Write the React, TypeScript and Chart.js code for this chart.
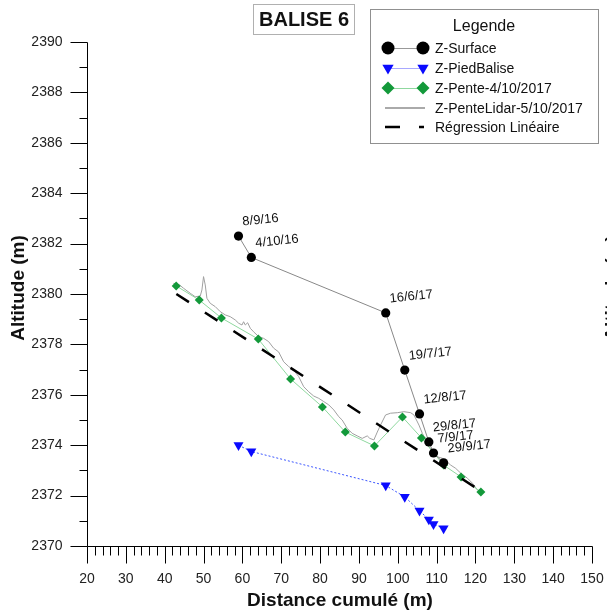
import React, { useEffect, useRef } from "react";
import { Chart, registerables } from "chart.js";

Chart.register(...registerables);

// ---------- DATA ----------
const X_MIN = 20;
const X_MAX = 150;
const Y_MIN = 2370;
const Y_MAX = 2390;
const xTickLabels = [20, 30, 40, 50, 60, 70, 80, 90, 100, 110, 120, 130, 140, 150];
const yTickLabels = [2370, 2372, 2374, 2376, 2378, 2380, 2382, 2384, 2386, 2388, 2390];

const surfaceDates = ["8/9/16", "4/10/16", "16/6/17", "19/7/17", "12/8/17", "29/8/17", "7/9/17", "29/9/17"];
const surfaceX = [59.0, 62.3, 96.9, 101.8, 105.6, 108.0, 109.2, 111.8];
const surfaceY = [2382.3, 2381.45, 2379.25, 2376.98, 2375.24, 2374.13, 2373.69, 2373.3];

const piedX = [59.0, 62.3, 96.9, 101.8, 105.6, 108.0, 109.2, 111.8];
const piedY = [2374.0, 2373.75, 2372.4, 2371.95, 2371.4, 2371.05, 2370.87, 2370.7];

const penteX = [42.96, 48.9, 54.6, 64.1, 72.4, 80.6, 86.5, 94.0, 101.2, 106.1, 111.8, 116.3, 121.4];
const penteY = [2380.32, 2379.76, 2379.05, 2378.21, 2376.63, 2375.52, 2374.52, 2373.97, 2375.12, 2374.29, 2373.21, 2372.74, 2372.14];

const lidarX = [42.26, 43.81, 44.84, 46.57, 47.86, 49.15, 49.58, 50.0, 50.44, 50.87, 51.73, 53.01, 54.3, 55.59, 56.88, 58.17, 59.03, 59.9, 60.31, 60.75, 61.35, 62.04, 62.89, 64.18, 65.47, 66.76, 68.05, 69.34, 70.63, 71.92, 73.21, 74.5, 75.79, 77.08, 78.37, 79.66, 80.95, 82.24, 83.53, 84.82, 85.69, 86.98, 88.27, 89.56, 90.85, 92.14, 92.81, 93.85, 94.72, 95.57, 96.86, 98.15, 99.88, 101.58, 103.31, 104.16, 105.45, 106.33, 107.18, 108.03, 109.32, 110.2, 111.49, 112.6, 113.63, 114.92, 116.21, 117.94, 119.23, 120.52, 121.37];
const lidarY = [2380.42, 2380.36, 2380.23, 2380.03, 2379.89, 2379.92, 2380.16, 2380.69, 2380.36, 2379.83, 2379.63, 2379.5, 2379.3, 2379.17, 2379.1, 2378.97, 2378.84, 2378.77, 2378.9, 2378.77, 2378.86, 2378.64, 2378.5, 2378.31, 2378.24, 2378.11, 2377.85, 2377.7, 2377.31, 2377.12, 2376.98, 2376.72, 2376.32, 2376.12, 2375.95, 2375.86, 2375.73, 2375.6, 2375.4, 2375.13, 2375.0, 2374.67, 2374.47, 2374.37, 2374.27, 2374.37, 2374.27, 2374.21, 2374.52, 2374.8, 2375.2, 2375.27, 2375.29, 2375.33, 2375.29, 2375.2, 2374.8, 2374.47, 2374.21, 2373.94, 2373.68, 2373.54, 2373.48, 2373.35, 2373.21, 2373.08, 2372.89, 2372.69, 2372.49, 2372.22, 2372.09];

const regX = [43.0, 121.5];
const regY = [2380.0, 2372.17];

const legendLabels = ["Z-Surface", "Z-PiedBalise", "Z-Pente-4/10/2017", "Z-PenteLidar-5/10/2017", "Régression Linéaire"];
const chartTitle = "BALISE 6";
const legendTitle = "Legende";
const xTitle = "Distance cumulé (m)";
const yTitle = "Altitude (m)";

// ---------- STYLE ----------
const FONT = "Arial, 'Liberation Sans', sans-serif";
const GREEN = "#13993a";
const BLUE = "#0a0aff";

const pts = (xs: number[], ys: number[]) => xs.map((x, i) => ({ x, y: ys[i] }));

function drawCircle(ctx: CanvasRenderingContext2D, x: number, y: number, r: number) {
  ctx.beginPath();
  ctx.arc(x, y, r, 0, Math.PI * 2);
  ctx.fill();
}
function drawTriDown(ctx: CanvasRenderingContext2D, x: number, y: number, r: number) {
  ctx.beginPath();
  ctx.moveTo(x - r * 0.866, y - r * 0.5);
  ctx.lineTo(x + r * 0.866, y - r * 0.5);
  ctx.lineTo(x, y + r);
  ctx.closePath();
  ctx.fill();
}
function drawDiamond(ctx: CanvasRenderingContext2D, x: number, y: number, r: number) {
  ctx.beginPath();
  ctx.moveTo(x, y - r);
  ctx.lineTo(x + r, y);
  ctx.lineTo(x, y + r);
  ctx.lineTo(x - r, y);
  ctx.closePath();
  ctx.fill();
}

const decorPlugin = {
  id: "decor",
  beforeDatasetsDraw(chart: any) {
    const { ctx } = chart;
    const xs = chart.scales.x;
    const ys = chart.scales.y;
    const ax = Math.round(xs.getPixelForValue(X_MIN)) + 0.5;
    const ab = Math.round(ys.getPixelForValue(Y_MIN)) + 0.5;
    const at = Math.round(ys.getPixelForValue(Y_MAX)) + 0.5;
    const ar = Math.round(xs.getPixelForValue(X_MAX)) + 0.5;
    ctx.save();
    ctx.strokeStyle = "#000";
    ctx.lineWidth = 1;
    ctx.beginPath();
    ctx.moveTo(ax, at);
    ctx.lineTo(ax, ab);
    ctx.moveTo(ax, ab);
    ctx.lineTo(ar, ab);
    for (let v = Y_MIN; v <= Y_MAX; v += 1) {
      const py = Math.round(ys.getPixelForValue(v)) + 0.5;
      const len = (v - Y_MIN) % 2 === 0 ? 17 : 8;
      ctx.moveTo(ax - len, py);
      ctx.lineTo(ax, py);
    }
    for (let v = X_MIN; v <= X_MAX; v += 2) {
      const px = Math.round(xs.getPixelForValue(v)) + 0.5;
      const len = (v - X_MIN) % 10 === 0 ? 17 : 9;
      ctx.moveTo(px, ab);
      ctx.lineTo(px, ab + len);
    }
    ctx.stroke();

    ctx.fillStyle = "#222";
    ctx.font = `14px ${FONT}`;
    ctx.textAlign = "right";
    ctx.textBaseline = "middle";
    yTickLabels.forEach((v) => {
      ctx.fillText(String(v), ax - 25, ys.getPixelForValue(v));
    });
    ctx.textAlign = "center";
    xTickLabels.forEach((v) => {
      ctx.fillText(String(v), xs.getPixelForValue(v), ab + 33);
    });

    ctx.fillStyle = "#111";
    ctx.font = `bold 19px ${FONT}`;
    ctx.textAlign = "center";
    ctx.textBaseline = "middle";
    ctx.fillText(xTitle, (ax + ar) / 2, 601);
    ctx.save();
    ctx.translate(24, 288);
    ctx.rotate(-Math.PI / 2);
    ctx.textBaseline = "alphabetic";
    ctx.fillText(yTitle, 0, 0);
    ctx.restore();
    ctx.save();
    ctx.translate(618, 288);
    ctx.rotate(-Math.PI / 2);
    ctx.textBaseline = "alphabetic";
    ctx.fillText(yTitle, 0, 0);
    ctx.restore();
    ctx.restore();
  },
  afterDraw(chart: any) {
    const { ctx } = chart;
    const xs = chart.scales.x;
    const ys = chart.scales.y;
    ctx.save();
    ctx.fillStyle = "#111";
    ctx.font = `13px ${FONT}`;
    ctx.textAlign = "left";
    ctx.textBaseline = "middle";
    surfaceDates.forEach((d, i) => {
      const px = xs.getPixelForValue(surfaceX[i]);
      const py = ys.getPixelForValue(surfaceY[i]);
      ctx.save();
      ctx.translate(px + 4, py - 14);
      ctx.rotate((-6 * Math.PI) / 180);
      ctx.fillText(d, 0, 0);
      ctx.restore();
    });

    ctx.fillStyle = "#fff";
    ctx.fillRect(253.5, 4.5, 101, 30);
    ctx.strokeStyle = "#b0b0b0";
    ctx.lineWidth = 1;
    ctx.strokeRect(253.5, 4.5, 101, 30);
    ctx.fillStyle = "#111";
    ctx.font = `bold 20px ${FONT}`;
    ctx.textAlign = "center";
    ctx.textBaseline = "middle";
    ctx.fillText(chartTitle, 304, 20);

    ctx.fillStyle = "#fff";
    ctx.fillRect(370.5, 9.5, 228, 134);
    ctx.strokeStyle = "#909090";
    ctx.strokeRect(370.5, 9.5, 228, 134);
    ctx.fillStyle = "#111";
    ctx.font = `16px ${FONT}`;
    ctx.fillText(legendTitle, 484, 27);

    const rows = [48, 68, 88, 108, 127];
    const l0 = 388, l1 = 423;
    ctx.strokeStyle = "#999";
    ctx.lineWidth = 1;
    ctx.beginPath(); ctx.moveTo(l0, rows[0] + 0.5); ctx.lineTo(l1, rows[0] + 0.5); ctx.stroke();
    ctx.fillStyle = "#000";
    drawCircle(ctx, l0, rows[0], 6.5);
    drawCircle(ctx, l1, rows[0], 6.5);
    ctx.strokeStyle = "#a8a8ff";
    ctx.beginPath(); ctx.moveTo(l0, rows[1] + 0.5); ctx.lineTo(l1, rows[1] + 0.5); ctx.stroke();
    ctx.fillStyle = BLUE;
    drawTriDown(ctx, l0, rows[1], 6.5);
    drawTriDown(ctx, l1, rows[1], 6.5);
    ctx.strokeStyle = "#8fd89f";
    ctx.beginPath(); ctx.moveTo(l0, rows[2] + 0.5); ctx.lineTo(l1, rows[2] + 0.5); ctx.stroke();
    ctx.fillStyle = GREEN;
    drawDiamond(ctx, l0, rows[2], 6.5);
    drawDiamond(ctx, l1, rows[2], 6.5);
    ctx.strokeStyle = "#aaa";
    ctx.lineWidth = 2;
    ctx.beginPath(); ctx.moveTo(385, rows[3]); ctx.lineTo(425, rows[3]); ctx.stroke();
    ctx.strokeStyle = "#000";
    ctx.lineWidth = 2.5;
    ctx.beginPath(); ctx.moveTo(385, rows[4]); ctx.lineTo(400, rows[4]);
    ctx.moveTo(419, rows[4]); ctx.lineTo(424, rows[4]); ctx.stroke();

    ctx.fillStyle = "#111";
    ctx.font = `14px ${FONT}`;
    ctx.textAlign = "left";
    ctx.textBaseline = "middle";
    legendLabels.forEach((t, i) => ctx.fillText(t, 435, rows[i] + 1));
    ctx.restore();
  },
};

export default function App() {
  const ref = useRef<HTMLCanvasElement | null>(null);
  useEffect(() => {
    if (!ref.current) return;
    const chart = new Chart(ref.current, {
      type: "scatter",
      data: {
        datasets: [
          {
            label: legendLabels[0],
            data: pts(surfaceX, surfaceY),
            showLine: true,
            borderColor: "#888",
            borderWidth: 1,
            pointStyle: "circle",
            pointRadius: 4.6,
            pointBackgroundColor: "#000",
            pointBorderColor: "#000",
            pointBorderWidth: 0,
          },
          {
            label: legendLabels[1],
            data: pts(piedX, piedY),
            showLine: true,
            borderColor: "#3a55ff",
            borderWidth: 1,
            borderDash: [2, 2],
            pointStyle: "triangle",
            rotation: 180,
            pointRadius: 5.8,
            pointBackgroundColor: BLUE,
            pointBorderColor: BLUE,
            pointBorderWidth: 0,
          },
          {
            label: legendLabels[4],
            data: pts(regX, regY),
            showLine: true,
            borderColor: "#000",
            borderWidth: 2.5,
            borderDash: [15, 19],
            pointRadius: 0,
          },
          {
            label: legendLabels[2],
            data: pts(penteX, penteY),
            showLine: true,
            borderColor: "#8fd89f",
            borderWidth: 1,
            pointStyle: "rectRot",
            pointRadius: 4.5,
            pointBackgroundColor: GREEN,
            pointBorderColor: GREEN,
            pointBorderWidth: 0,
          },
          {
            label: legendLabels[3],
            data: pts(lidarX, lidarY),
            showLine: true,
            borderColor: "#a0a0a0",
            borderWidth: 1,
            pointRadius: 0,
          },
        ],
      },
      options: {
        responsive: false,
        animation: false,
        events: [],
        layout: { padding: { left: 87, top: 42, right: 15, bottom: 68 } },
        plugins: {
          legend: { display: false },
          title: { display: false },
          tooltip: { enabled: false },
        },
        scales: {
          x: { type: "linear", min: X_MIN, max: X_MAX, display: false },
          y: { type: "linear", min: Y_MIN, max: Y_MAX, display: false },
        },
      },
      plugins: [decorPlugin],
    });
    return () => chart.destroy();
  }, []);

  return (
    <div style={{ position: "absolute", left: 0, top: 0, width: 607, height: 614, background: "#fff" }}>
      <canvas ref={ref} width={607} height={614} style={{ display: "block", width: 607, height: 614 }} />
    </div>
  );
}
